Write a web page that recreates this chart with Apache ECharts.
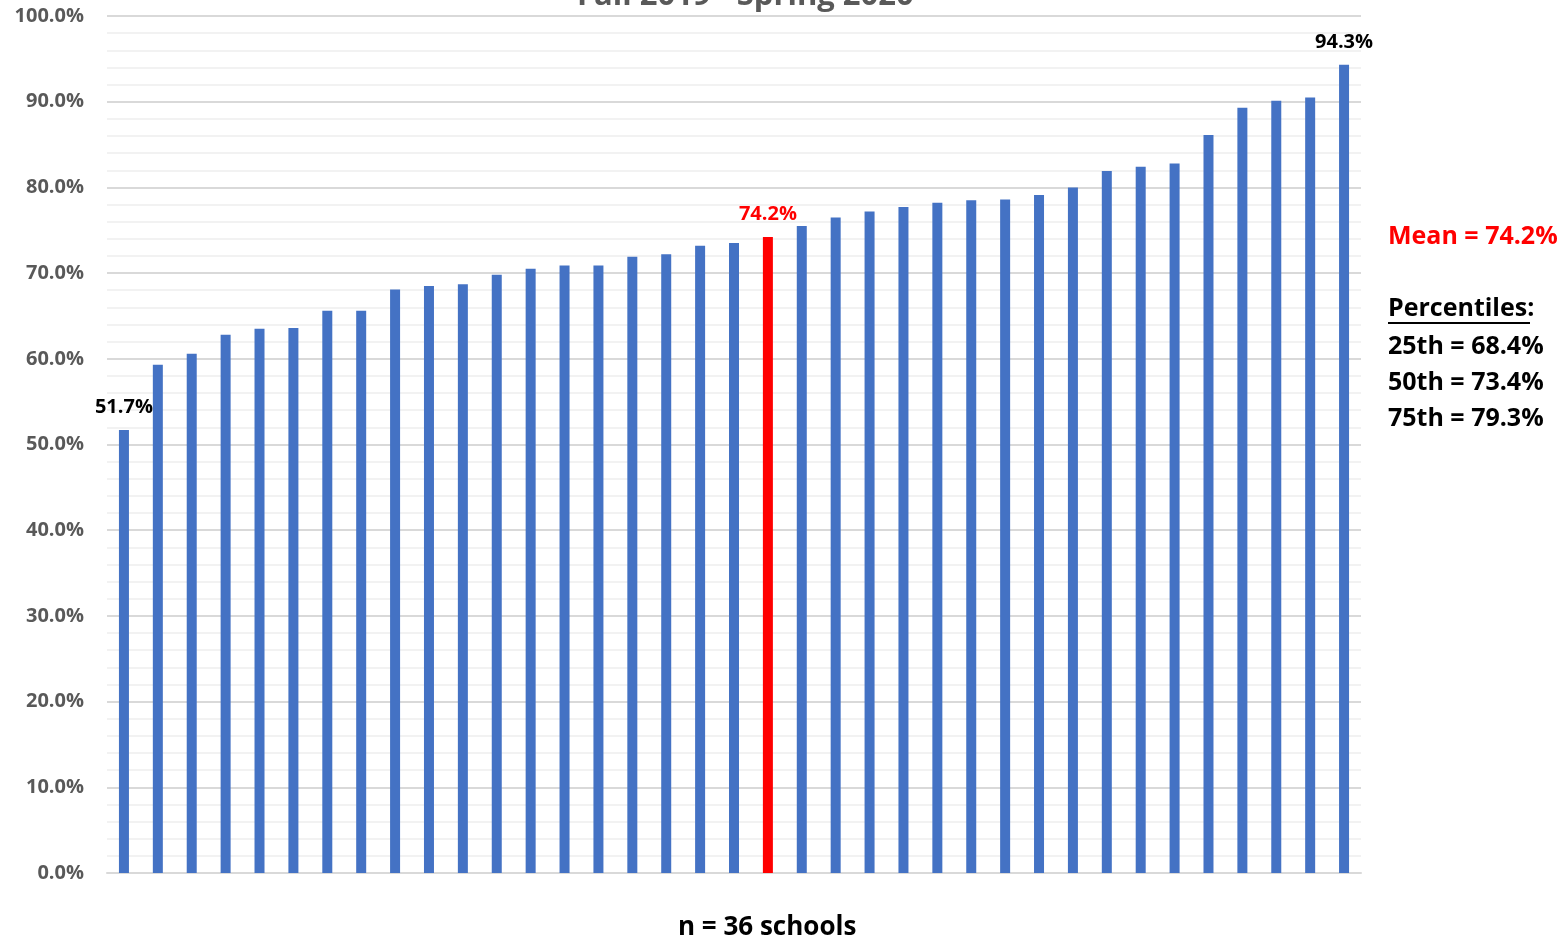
<!DOCTYPE html>
<html>
<head>
<meta charset="utf-8">
<title>Fall 2019 - Spring 2020</title>
<script src="https://cdn.jsdelivr.net/npm/echarts@6/dist/echarts.min.js"></script>
<style>
  html, body { margin: 0; padding: 0; background: #ffffff; }
  #chart { width: 1566px; height: 939px; }
</style>
</head>
<body>
<div id="chart"></div>
<script>
// Rate per school, sorted ascending (percent)
const schoolRates = [
  51.7, 59.3, 60.6, 62.8, 63.5, 63.6, 65.6, 65.6, 68.1, 68.5,
  68.7, 69.8, 70.5, 70.9, 70.9, 71.9, 72.2, 73.2, 73.5,
  75.5, 76.5, 77.2, 77.7, 78.2, 78.5, 78.6, 79.1, 80.0,
  81.9, 82.4, 82.8, 86.1, 89.3, 90.1, 90.5, 94.3
];
const meanRate = 74.2;
const percentiles = [
  { name: '25th', value: 68.4 },
  { name: '50th', value: 73.4 },
  { name: '75th', value: 79.3 }
];
const yTicks = [0, 10, 20, 30, 40, 50, 60, 70, 80, 90, 100];
const titleText = 'Fall 2019 - Spring 2020';
const footText = 'n = ' + schoolRates.length + ' schools';

const FONT = '"Open Sans", "Liberation Sans", sans-serif';
const BLUE = '#4472C4';
const RED = '#FF0000';

// Insert the mean bar into the sorted sequence
const bars = [];
let meanPlaced = false;
schoolRates.forEach(v => {
  if (!meanPlaced && v > meanRate) { bars.push({ v: meanRate, mean: true }); meanPlaced = true; }
  bars.push({ v: v, mean: false });
});
if (!meanPlaced) bars.push({ v: meanRate, mean: true });

const categories = bars.map((b, i) => String(i + 1));
const lastIdx = bars.length - 1;

const seriesData = bars.map((b, i) => {
  const item = { value: b.v, itemStyle: { color: b.mean ? RED : BLUE } };
  if (b.mean || i === 0 || i === lastIdx) {
    item.label = {
      show: true,
      position: 'top',
      distance: 13,
      formatter: p => p.value.toFixed(1) + '%',
      color: b.mean ? RED : '#000000',
      fontFamily: FONT,
      fontWeight: 'bold',
      fontSize: 20
    };
  }
  return item;
});

const chart = echarts.init(document.getElementById('chart'), null, { renderer: 'canvas' });

const sideX = 1388;
const pctLines = percentiles.map((p, i) => ({
  type: 'text',
  left: sideX,
  top: 334 + i * 36,
  style: {
    text: p.name + ' = ' + p.value.toFixed(1) + '%',
    fill: '#000000',
    font: 'bold 25px ' + FONT
  }
}));

chart.setOption({
  animation: false,
  backgroundColor: '#ffffff',
  grid: {
    left: 107, right: 205, top: 16, bottom: 66,
    containLabel: false,
    outerBoundsMode: 'none'
  },
  xAxis: {
    type: 'category',
    data: categories,
    axisLine: { show: true, lineStyle: { color: '#d9d9d9', width: 2 } },
    axisTick: { show: false },
    axisLabel: { show: false },
    splitLine: { show: false }
  },
  yAxis: {
    type: 'value',
    min: yTicks[0],
    max: yTicks[yTicks.length - 1],
    interval: 10,
    axisLine: { show: false },
    axisTick: { show: false },
    axisLabel: {
      margin: 23,
      color: '#595959',
      fontFamily: FONT,
      fontWeight: 'bold',
      fontSize: 20,
      formatter: v => v.toFixed(1) + '%'
    },
    splitLine: { show: true, lineStyle: { color: '#d9d9d9', width: 2 } },
    minorTick: { show: false, splitNumber: 5 },
    minorSplitLine: { show: true, lineStyle: { color: '#f2f2f2', width: 2 } }
  },
  series: [{
    type: 'bar',
    data: seriesData,
    barWidth: 10,
    label: { show: false }
  }],
  graphic: [
    {
      type: 'text',
      left: 577,
      top: -19,
      style: { text: titleText, fill: '#595959', font: 'bold 31px ' + FONT }
    },
    {
      type: 'text',
      left: sideX,
      top: 224,
      style: { text: 'Mean = ' + meanRate.toFixed(1) + '%', fill: RED, font: 'bold 25px ' + FONT }
    },
    {
      type: 'text',
      left: sideX,
      top: 296,
      style: { text: 'Percentiles:', fill: '#000000', font: 'bold 25px ' + FONT }
    },
    {
      type: 'line',
      shape: { x1: sideX, y1: 323, x2: 1530, y2: 323 },
      style: { stroke: '#000000', lineWidth: 2 }
    },
    ...pctLines,
    {
      type: 'text',
      left: 678,
      top: 915,
      style: { text: footText, fill: '#000000', font: 'bold 26px ' + FONT }
    }
  ]
});
</script>
</body>
</html>
